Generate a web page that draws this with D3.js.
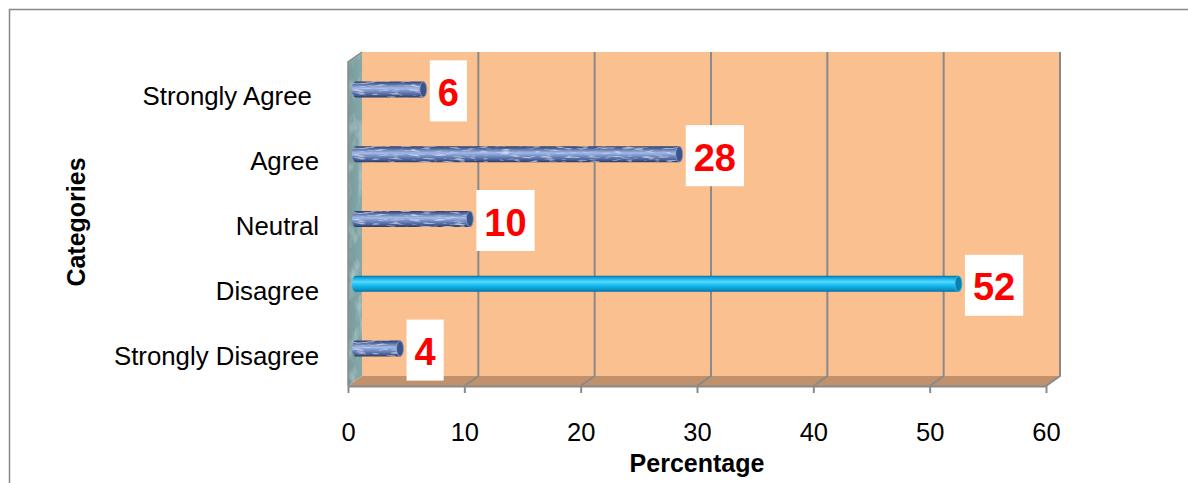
<!DOCTYPE html>
<html>
<head>
<meta charset="utf-8">
<script src="https://cdn.jsdelivr.net/npm/d3@7"></script>
<style>
  html, body { margin: 0; padding: 0; background: #ffffff; }
  svg { display: block; }
  text { font-family: "Liberation Sans", Arial, sans-serif; }
</style>
</head>
<body>
<svg id="chart" width="1188" height="483"></svg>
<script>
// Survey responses, listed top to bottom
const categories = ["Strongly Agree ", "Agree", "Neutral", "Disagree", "Strongly Disagree"];
const percentages = [6, 28, 10, 52, 4];
const xTicks = [0, 10, 20, 30, 40, 50, 60];
const xTitle = "Percentage";
const yTitle = "Categories";

const svg = d3.select("#chart");
const defs = svg.append("defs");

// 3-D box: front plane and the depth offset toward the back wall
const depth = { dx: 14, dy: -10 };
const x = d3.scaleLinear().domain([0, 60]).range([348, 1046]);
const y = d3.scaleBand().domain(categories).range([62, 386]);
const floorY = y.range()[1];
const topY = y.range()[0];
const gridColor = "#8a8a8a";

// ---------- paint definitions ----------
function vGrad(id, stops) {
  const g = defs.append("linearGradient").attr("id", id)
    .attr("x1", 0).attr("y1", 0).attr("x2", 0).attr("y2", 1);
  stops.forEach(([o, c]) => g.append("stop").attr("offset", o).attr("stop-color", c));
}
vGrad("blueTube", [[0, "#2c3f6c"], [0.14, "#4c659c"], [0.42, "#a3b9e6"], [0.58, "#7b95cc"], [0.84, "#4a6299"], [1, "#293a64"]]);
vGrad("cyanTube", [[0, "#0b6c96"], [0.12, "#0aa6dd"], [0.38, "#5ad8ff"], [0.55, "#1fc2f6"], [0.85, "#0598ce"], [1, "#066d98"]]);

const sideGrad = defs.append("linearGradient").attr("id", "sideWall")
  .attr("x1", 0).attr("y1", 0).attr("x2", 1).attr("y2", 0);
sideGrad.append("stop").attr("offset", 0).attr("stop-color", "#769a9b");
sideGrad.append("stop").attr("offset", 1).attr("stop-color", "#86a8a8");

// mottled texture for the blue tubes
const mottle = defs.append("filter").attr("id", "mottle")
  .attr("x", 0).attr("y", 0).attr("width", 1).attr("height", 1);
mottle.append("feTurbulence").attr("type", "fractalNoise")
  .attr("baseFrequency", "0.09 0.45").attr("numOctaves", 2).attr("seed", 4).attr("result", "noise");
mottle.append("feColorMatrix").attr("in", "noise").attr("type", "matrix")
  .attr("values", "0 0 0 0 0.80  0 0 0 0 0.86  0 0 0 0 1  2.0 0 0 0 -1.05").attr("result", "spots");
mottle.append("feComposite").attr("in", "spots").attr("in2", "SourceGraphic")
  .attr("operator", "in").attr("result", "clipped");
const mm = mottle.append("feMerge");
mm.append("feMergeNode").attr("in", "SourceGraphic");
mm.append("feMergeNode").attr("in", "clipped");

// marbled texture for the side wall
const marble = defs.append("filter").attr("id", "marble")
  .attr("x", 0).attr("y", 0).attr("width", 1).attr("height", 1);
marble.append("feTurbulence").attr("type", "fractalNoise")
  .attr("baseFrequency", "0.12 0.05").attr("numOctaves", 3).attr("seed", 9).attr("result", "noise");
marble.append("feColorMatrix").attr("in", "noise").attr("type", "matrix")
  .attr("values", "0 0 0 0 0.62  0 0 0 0 0.74  0 0 0 0 0.74  1.2 0 0 0 -0.55").attr("result", "veins");
marble.append("feComposite").attr("in", "veins").attr("in2", "SourceGraphic")
  .attr("operator", "in").attr("result", "clipped");
const mm2 = marble.append("feMerge");
mm2.append("feMergeNode").attr("in", "SourceGraphic");
mm2.append("feMergeNode").attr("in", "clipped");

// ---------- chart frame ----------
svg.append("rect")
  .attr("x", 9.5).attr("y", 9.5).attr("width", 1200).attr("height", 500)
  .attr("fill", "none").attr("stroke", "#878787").attr("stroke-width", 1.5);

// ---------- walls and floor ----------
const x0 = x(0), x60 = x(60);
const line = d3.line();

// back wall
svg.append("rect")
  .attr("x", x0 + depth.dx).attr("y", topY + depth.dy)
  .attr("width", x60 - x0).attr("height", floorY - topY)
  .attr("fill", "#fac090");

// floor
svg.append("path")
  .attr("d", line([[x0, floorY], [x0 + depth.dx, floorY + depth.dy], [x60 + depth.dx, floorY + depth.dy], [x60, floorY]]) + "Z")
  .attr("fill", "#c1916c");

// side wall
svg.append("path")
  .attr("d", line([[x0, floorY], [x0, topY], [x0 + depth.dx, topY + depth.dy], [x0 + depth.dx, floorY + depth.dy]]) + "Z")
  .attr("fill", "url(#sideWall)")
  .attr("filter", "url(#marble)");
svg.append("path")
  .attr("d", line([[x0, floorY], [x0, topY], [x0 + depth.dx, topY + depth.dy]]))
  .attr("fill", "none").attr("stroke", "#8a8a8a").attr("stroke-width", 1.5);

// gridlines on the back wall and the floor
const grid = svg.append("g").attr("stroke", gridColor).attr("stroke-width", 2).attr("fill", "none");
xTicks.filter(t => t > 0).forEach(t => {
  grid.append("path").attr("d", line([
    [x(t) + depth.dx, topY + depth.dy],
    [x(t) + depth.dx, floorY + depth.dy],
    [x(t), floorY]
  ]));
});

// ---------- x axis ----------
const axis = svg.append("g")
  .attr("transform", `translate(0,${floorY})`)
  .call(d3.axisBottom(x).tickValues(xTicks).tickSize(7).tickSizeOuter(0));
axis.select(".domain").attr("stroke", gridColor).attr("stroke-width", 2);
axis.selectAll(".tick line").attr("stroke", gridColor).attr("stroke-width", 2);
axis.selectAll(".tick text")
  .attr("dy", null).attr("y", 55)
  .attr("fill", "#000").attr("font-size", "25.5px")
  .style("font-family", "'Liberation Sans', Arial, sans-serif");

svg.append("text")
  .attr("x", (x0 + x60) / 2).attr("y", 472)
  .attr("text-anchor", "middle")
  .attr("font-size", "25px").attr("font-weight", "bold")
  .text(xTitle);

// ---------- category labels ----------
svg.append("g").selectAll("text")
  .data(categories)
  .join("text")
  .attr("x", 319)
  .attr("y", d => y(d) + y.bandwidth() / 2 + 11)
  .attr("text-anchor", "end")
  .attr("font-size", "25.8px")
  .style("white-space", "pre")
  .text(d => d);

svg.append("text")
  .attr("transform", "translate(85,222) rotate(-90)")
  .attr("text-anchor", "middle")
  .attr("font-size", "25px").attr("font-weight", "bold")
  .text(yTitle);

// ---------- cylinder bars ----------
const maxVal = d3.max(percentages);
const rows = categories.map((c, i) => ({ c, v: percentages[i] }));
const thick = y.step() * 0.247;
const capRx = 3.5;

const bars = svg.append("g").selectAll("g")
  .data(rows)
  .join("g")
  .attr("transform", d => `translate(0,${y(d.c) + y.bandwidth() / 2 + depth.dy / 2})`);

bars.each(function (d) {
  const g = d3.select(this);
  const hi = d.v === maxVal;
  const bx0 = x(0) + depth.dx / 2;
  const bx1 = x(d.v) + depth.dx / 2;
  g.append("rect")
    .attr("x", bx0 - 3).attr("y", -thick / 2)
    .attr("width", bx1 - bx0 + 5).attr("height", thick)
    .attr("rx", capRx).attr("ry", thick / 2)
    .attr("fill", hi ? "url(#cyanTube)" : "url(#blueTube)")
    .attr("filter", hi ? null : "url(#mottle)");
  g.append("ellipse")
    .attr("cx", bx1 - 1.5).attr("cy", 0)
    .attr("rx", capRx).attr("ry", thick / 2 - 0.3)
    .attr("fill", hi ? "#0b7fae" : "#3d5487")
    .attr("stroke", hi ? "#38c6f0" : "#8aa2d4").attr("stroke-width", 0.8);

  // value label in a white box
  const lbl = g.append("g");
  const box = lbl.append("rect").attr("fill", "#ffffff");
  const txt = lbl.append("text")
    .attr("font-size", "38px").attr("font-weight", "bold")
    .attr("fill", "#ff0000").attr("text-anchor", "middle")
    .text(d.v);
  const tw = txt.node().getComputedTextLength();
  const bw = tw + 16, bh = 61;
  const left = bx1 + 5;
  box.attr("x", left).attr("y", 1.5 - bh / 2).attr("width", bw).attr("height", bh);
  txt.attr("x", left + bw / 2).attr("y", 1.5 + 15);
});
</script>
</body>
</html>
